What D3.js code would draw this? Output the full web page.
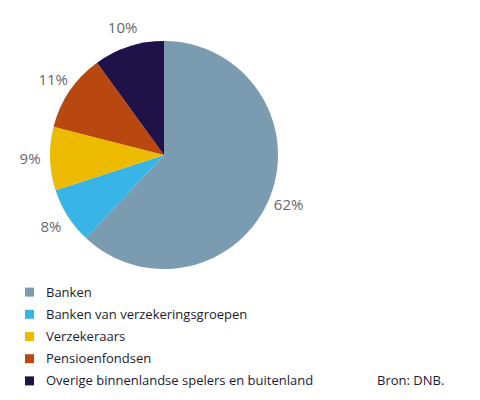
<!DOCTYPE html>
<html>
<head>
<meta charset="utf-8">
<script src="https://cdn.jsdelivr.net/npm/d3@7"></script>
<style>
  body { margin: 0; background: #fff; }
  svg { font-family: "Open Sans", "Noto Sans", sans-serif; }
</style>
</head>
<body>
<svg id="chart" width="480" height="400"></svg>
<script>
const categories = ["Banken", "Banken van verzekeringsgroepen", "Verzekeraars", "Pensioenfondsen", "Overige binnenlandse spelers en buitenland"];
const shares = [62, 8, 9, 11, 10];
const colors = ["#7b9bb0", "#38b5e6", "#ecbb00", "#b94710", "#1e1248"];
const sourceText = "Bron: DNB.";

const data = categories.map((name, i) => ({name, value: shares[i], color: colors[i]}));

const svg = d3.select("#chart");
const cx = 164, cy = 155, radius = 114, labelRadius = 134;

const pie = d3.pie().value(d => d.value).sort(null);
const arc = d3.arc().innerRadius(0).outerRadius(radius);
const labelArc = d3.arc().innerRadius(labelRadius).outerRadius(labelRadius);

const g = svg.append("g").attr("transform", `translate(${cx}, ${cy})`);

g.selectAll("path")
    .data(pie(data))
    .enter()
    .append("path")
    .attr("d", arc)
    .attr("fill", d => d.data.color);

g.selectAll("text")
    .data(pie(data))
    .enter()
    .append("text")
    .attr("transform", d => `translate(${labelArc.centroid(d)})`)
    .attr("text-anchor", "middle")
    .attr("dy", "0.35em")
    .attr("font-size", 15)
    .attr("fill", "#67676d")
    .text(d => d.data.value + "%");

// legend
const legendY = d3.scaleBand()
    .domain(categories)
    .range([281, 392]);

const legend = svg.append("g");
const rows = legend.selectAll("g")
    .data(data)
    .enter()
    .append("g")
    .attr("transform", d => `translate(25, ${legendY(d.name) + legendY.bandwidth() / 2})`);

rows.append("rect")
    .attr("x", 0)
    .attr("y", -4.5)
    .attr("width", 9)
    .attr("height", 9)
    .attr("fill", d => d.color);

rows.append("text")
    .attr("x", 21)
    .attr("dy", "0.35em")
    .attr("font-size", 13)
    .attr("fill", "#1c1a33")
    .text(d => d.name);

svg.append("text")
    .attr("x", 377)
    .attr("y", legendY(categories[4]) + legendY.bandwidth() / 2)
    .attr("dy", "0.35em")
    .attr("font-size", 13)
    .attr("fill", "#1c1a33")
    .text(sourceText);
</script>
</body>
</html>
